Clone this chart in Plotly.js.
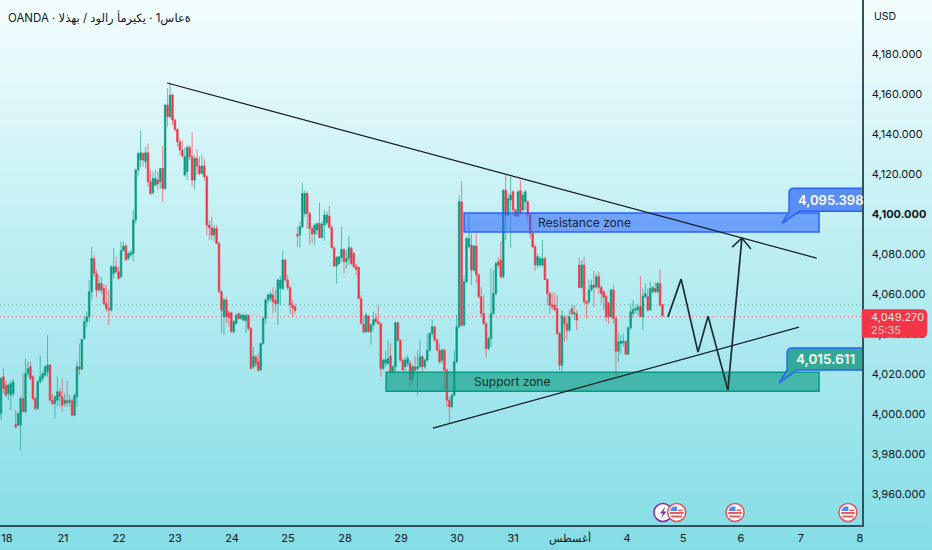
<!DOCTYPE html>
<html><head><meta charset="utf-8">
<script src="https://cdn.plot.ly/plotly-3.0.1.min.js"></script>
<style>html,body{margin:0;padding:0;width:932px;height:550px;overflow:hidden;background:linear-gradient(180deg,#f4fdfe 0%,#b9edf1 48%,#84dde6 100%)}#c{width:932px;height:550px}</style>
</head><body><div id="c"></div>
<script>
const open_=[4000.3,4018.7,4014.5,4010.3,4009.5,4010.3,3994.8,3994.5,3994.5,4007.8,4001.2,4020.3,4023.7,4018.7,4007.8,4002.8,4016.2,4017.8,4019.5,4021.2,4024.5,4007,4005.3,4007,4011.2,4008.7,4005.3,4006.7,4006,4006.7,3999.5,4008.7,4023.7,4022.5,4037.8,4046.2,4048.7,4061.2,4077.8,4070.3,4062,4065.3,4062.8,4055.3,4052.8,4052,4070.3,4073.7,4071.2,4068.7,4081.7,4084,4077.8,4079.5,4080.3,4097,4122,4127,4130.3,4126.2,4130.7,4116.2,4110.7,4114.5,4117,4116.2,4122.8,4112.8,4154.5,4148.7,4159.5,4147,4142.3,4136.2,4132,4119.5,4121.2,4133.3,4128.7,4117,4127.8,4124,4120.3,4124,4118.7,4094.5,4093.2,4089.5,4092.8,4085.3,4061.2,4048.7,4057,4050.7,4050.7,4041.2,
4045.3,4050.3,4047.8,4047,4046.7,4049.5,4042.8,4023.7,4028.7,4026.2,4022,4035.3,4047.8,4057,4057.8,4059.5,4057,4055.3,4062.8,4062.8,4077,4067,4063.3,4054.5,4053.7,4089.8,4089.5,4093.7,4100.3,4110.3,4100.3,4092.8,4090,4092,4095.3,4088.3,4094.5,4095.7,4099,4093.3,4083.2,4074,4075.3,4078.3,4082.3,4076.2,4077.8,4082.8,4080.3,4073.7,4073.3,4057.8,4045,4041.2,4049,4041.2,4044.5,4047.8,4046.2,4045.3,4022.8,4025.3,4025.3,4029,4021.2,4023.7,4045.7,4037,4027,4023.7,4025.3,4025.3,4017.8,4023.7,4022.8,4023.7,4028.7,4023.7,4027,4032,4040.3,4043.7,4037,4032,4027,4032,4022,4007,4003.7,4009.5,4026.2,4043.7,4106.2,4044.5,
4066.2,4083.7,4084.5,4072,4084,4069.5,4058.7,4050.3,4045.3,4032.8,4037.8,4050.3,4060.3,4076.2,4077,4068.7,4112,4099.5,4107,4111.2,4102,4099,4111.7,4102,4106.2,4106.2,4099.5,4090.3,4083.7,4074.5,4074.5,4074.5,4077.8,4067.3,4060.3,4054.5,4054.5,4052.8,4040.3,4024.5,4048.3,4045.3,4042,4052.8,4050,4050.3,4074.5,4063.3,4074.5,4056.2,4056.2,4062,4064.5,4063.7,4068.7,4063.3,4061.2,4058.7,4055.3,4048.7,4062,4047.8,4031.5,4035.3,4035.7,4036.2,4030,4043.2,4050.3,4052,4052,4053.7,4048.7,4058.7,4058.7,4052,4061.2,4062.8,4061.2,4065.3,4054.8];
const high_=[4018.7,4022.8,4017,4015.3,4017,4017.8,4002,4001,4008.7,4020.3,4027.8,4026.2,4026.2,4019.5,4008.7,4017,4029.5,4021.2,4024.5,4039.5,4025,4010.3,4009.5,4018.7,4012.8,4017.8,4010.3,4016.7,4009.5,4007.8,4010.3,4026.2,4035.3,4037.8,4048.7,4051.2,4067,4083.7,4079.5,4072,4069.5,4068.7,4065,4064.5,4062,4074.5,4082.8,4078.7,4073.7,4086.2,4086.2,4085.3,4081.2,4082,4102,4122.8,4131.2,4141.7,4130.7,4133.7,4135.3,4122,4121.2,4122,4121.2,4122.8,4134,4155.3,4162.8,4165.7,4160.3,4147.8,4142.8,4137.8,4137,4133.3,4134.5,4134.5,4140.7,4129.5,4132.3,4128.7,4129.8,4127.8,4119.5,4097,4098.7,4094.5,4094.5,4086.2,4062,4057.8,4058.7,4052,4051.2,4047,
4050.3,4050.7,4050.3,4050.3,4050.3,4049.5,4043.7,4033.7,4029.5,4030.3,4035.3,4048.7,4057.8,4060.3,4061.2,4063.3,4062.3,4067.8,4069,4081.7,4077.8,4069.5,4063.7,4057,4055.3,4093.7,4096.2,4115.7,4112,4111.2,4101.2,4093.7,4095.3,4095.7,4105.7,4096.2,4102,4101.2,4104,4094.5,4083.7,4079,4079,4093.7,4082.8,4082,4089,4083.7,4081.2,4075.3,4074,4059.5,4048.7,4050.7,4049.5,4045.3,4051.2,4050.3,4054.5,4045.7,4027.8,4032,4037,4035.3,4024.5,4046.2,4046.2,4037.3,4027.8,4028.7,4029.5,4027,4024.5,4029,4032,4037.3,4029.5,4027.8,4040.3,4041.2,4047.3,4044,4037.8,4035.3,4032.8,4032.8,4022.8,4008.7,4010.3,4032,4049.5,4109.5,4116.2,4069.5,
4088.7,4099.5,4090.3,4084.5,4090.3,4070.3,4063.7,4059.5,4046.2,4038.7,4072.8,4072,4076.2,4078.7,4086.2,4112.3,4119.5,4110.3,4118.7,4112,4102.8,4112,4117,4111.2,4112,4107,4100.3,4091.2,4084.5,4080.3,4079,4087,4078.7,4067.8,4061.2,4060.7,4060.7,4059.5,4041.2,4052,4049.5,4049.5,4052,4054.5,4054.5,4052,4078.3,4077,4078.7,4057,4067,4067.3,4071.7,4070,4071.2,4064.5,4062,4060.3,4056.2,4062.8,4064.5,4048.7,4040.7,4039.5,4040.3,4037,4043.7,4055.3,4057,4054.5,4055.3,4069,4062.8,4065.3,4062.8,4066.2,4064,4066.2,4066.2,4072.3,4055];
const low_=[3997,4010.3,4008.7,4007,4002,4008.7,3992.8,3993.7,3982,4001.2,4000.3,4018.7,4017,4007,4002,4002,4015.3,4016.2,4018.7,4018.7,4006.2,4004.5,3997.8,4003.7,4003.7,4001.2,4003.7,4003.7,4003.7,3999,3999,4003.7,4019.5,4022,4037,4043.7,4046.2,4057,4068.7,4058.7,4061.2,4060.3,4054.5,4051.2,4044.5,4051.2,4067.8,4070.3,4067,4067.8,4081.2,4076.5,4077,4078.7,4076.5,4095.3,4118.7,4123.7,4123.7,4122.8,4113.7,4109.5,4109.8,4113.7,4112,4112.8,4106.2,4112,4143.7,4147.8,4144.5,4141.2,4133.7,4129.5,4128.3,4118.7,4117,4127,4113.7,4112.3,4119.5,4119.5,4119.5,4117,4089.5,4087,4087,4086.2,4085,4060.3,4040.3,4039.5,4045.3,4043.7,4040.7,4040.3,
4044.5,4047,4047,4046.2,4040.3,4042,4022.3,4022.8,4023.7,4021.2,4021.7,4034.5,4045.3,4055.3,4056.2,4050.3,4051.2,4044.5,4054.5,4062,4066.2,4062,4050.3,4048.7,4050.3,4083.7,4083.3,4092.8,4098.7,4092.8,4084.5,4085.3,4084.5,4089.5,4087.8,4087.8,4086.7,4094.5,4092.8,4082.8,4073.7,4065.3,4074.5,4076.2,4070.3,4072.8,4074.5,4074.5,4072.8,4069.5,4057.3,4045,4040.3,4040.3,4040.7,4034.5,4042,4045.3,4044.5,4018.7,4022,4023.7,4024.5,4020.3,4020.3,4021.2,4036.2,4026.2,4021.7,4021.2,4023.7,4013.7,4014.5,4021.2,4009.5,4022.8,4021.2,4022.8,4026.2,4031.2,4038.7,4036.2,4031.2,4025.3,4025.3,4012,4003.7,3995.3,4002.8,4008.7,4025.3,4042.8,4043.7,4043.7,
4065.3,4082.8,4064.5,4071.2,4065.3,4057.8,4048.7,4044.5,4028.3,4032,4033.7,4049.5,4059.5,4072.8,4067.8,4067.8,4087,4098.7,4083.3,4099.5,4098.7,4098.7,4099.5,4101.2,4102,4095.3,4087.8,4082.8,4071.7,4072.8,4073.7,4073.7,4067,4054.5,4050.3,4052,4051.2,4039.5,4022,4021.2,4036.2,4037,4041.2,4049.5,4047,4042,4062.8,4062.8,4055,4047.8,4055.3,4061.2,4053.7,4062.8,4060.3,4055.3,4052,4046.2,4045.3,4047.8,4045.3,4018.7,4026.2,4030,4033.7,4029.5,4029.5,4042,4048.7,4050.3,4049.5,4048.7,4042,4057.8,4051.2,4051.7,4060.3,4060.3,4060.3,4053.7,4048.3];
const close_=[4017.8,4012.8,4009.5,4014.5,4015.3,4016.2,3993.7,4000.3,4007.8,4001.2,4020.3,4022.8,4017.8,4007.8,4002.8,4016.2,4018.7,4020.3,4023.7,4024.5,4007,4005.3,4008.7,4011.2,4008.7,4004.5,4007,4005.7,4006.7,3999.5,4009.5,4023.7,4022.5,4037.3,4046.2,4048.7,4061.2,4077.8,4070.3,4062,4065.3,4062,4055.3,4052.8,4052,4073.7,4073.7,4071.2,4067.8,4081.7,4084,4077,4080.3,4080.7,4097,4122,4130.3,4130.7,4127,4130.7,4116.2,4110.3,4117.8,4117.8,4115,4122.8,4112.8,4154.5,4148.7,4159.5,4147,4142.3,4136.2,4132,4129,4128.7,4133.3,4128.7,4117,4127.8,4124,4120.3,4124,4118.7,4094.5,4093.2,4089.5,4092.8,4085.3,4061.2,4052,4057.3,4048.7,4048.3,4041.2,4046.2,
4049.5,4047.8,4049.5,4049.5,4049.2,4042.8,4022.8,4028.7,4025.3,4022,4035.3,4047.8,4057,4059.5,4060,4056.2,4055.3,4067,4067,4077,4067,4063.3,4054.5,4053.3,4051.7,4089,4093.7,4110.3,4110.3,4100.3,4092.8,4090,4094.5,4095.3,4088.3,4095,4099.5,4099.5,4093.3,4083.2,4074,4078.3,4078.7,4082.3,4076.2,4077.8,4083.3,4075.3,4073.7,4072.3,4057.8,4045.3,4041.2,4049.5,4041.2,4044.5,4047.3,4046.2,4045.3,4022.8,4027,4027.3,4027.8,4021.2,4023.7,4045.7,4037,4027,4022,4027,4027.8,4017,4023.7,4022,4023.7,4028.7,4023.7,4027,4032,4040.3,4043.7,4037,4032,4026.2,4032,4022,4007,4003.7,4009.5,4026.2,4043.7,4106.2,4044.5,4066.2,
4087.8,4087.8,4072,4084,4069.5,4058.7,4050.3,4045.3,4032.8,4037.8,4050.3,4060.3,4075.3,4074.5,4068.7,4112,4099.5,4107.8,4109.5,4102,4099,4111.2,4100.3,4109.5,4111.2,4099.5,4090.3,4083.7,4074.5,4078.7,4077.8,4077.8,4067.3,4060.3,4054.5,4053.7,4052.3,4040.3,4024.5,4049.2,4045.3,4042,4048.7,4050.3,4050.7,4047,4063.3,4074.5,4056.2,4055.3,4062,4064.5,4063.3,4068.7,4063.3,4060.3,4058.3,4048.7,4048.7,4062,4047.8,4031.5,4036.2,4036.5,4036.5,4030,4043.2,4051.2,4052.3,4052.7,4053.7,4048.7,4059,4060.3,4052,4062.8,4063.3,4061.2,4065.3,4054.5,4049.27];

const yTicks=[4180,4160,4140,4120,4100,4080,4060,4040,4020,4000,3980,3960];
const dayBars=[2.4,25.3,48.2,71,94.3,117.1,140.4,163.3,186.1,209,232.2,255.5,278.4,302,326.5,350.6];
const dayLabels=['18','21','22','23','24','25','28','29','30','31','أغسطس','4','5','6','7','8'];
const eventBars=[275.8,299.6,345.7];
const trendBars=[67.8,332.9], trendPrices=[4165.5,4078];
const riseBars=[176.3,325.7], risePrices=[3993,4043.5];
const pathBars=[272.2,277.6,284.5,288.6,296.7,302.4], pathPrices=[4048.5,4067.5,4031,4049,4012,4088];
const headBars=[298.4,302.4,306.1], headPrices=[4083.5,4088,4082.5];
const resistZone={x:[189,333.9],y:[4091,4100.5]}, supportZone={x:[157.2,333.9],y:[4011.5,4021]};

const bars=close_.map((_,i)=>i);
const INK='#131722', UP='#089981', DN='#f23645', BLUE='#2962ff', F='Inter, "Noto Sans", sans-serif';
const fmt=v=>v.toLocaleString('en-US',{minimumFractionDigits:3,maximumFractionDigits:3});

const shapes=[
 {type:'line',xref:'paper',x0:0,x1:1,yref:'y',y0:4054.6,y1:4054.6,layer:'below',line:{color:'rgba(40,120,110,.55)',width:1,dash:'1px,3px'}},
 {type:'line',xref:'paper',x0:0,x1:1,yref:'y',y0:4048.8,y1:4048.8,layer:'below',line:{color:'rgba(230,60,80,.65)',width:1,dash:'1px,3px'}},
 {type:'rect',x0:resistZone.x[0],x1:resistZone.x[1],y0:resistZone.y[0],y1:resistZone.y[1],fillcolor:'rgba(41,98,255,.55)',line:{color:BLUE,width:1.5}},
 {type:'rect',x0:supportZone.x[0],x1:supportZone.x[1],y0:supportZone.y[0],y1:supportZone.y[1],fillcolor:'rgba(8,153,129,.62)',line:{color:UP,width:1.5}},
 {type:'line',x0:trendBars[0],x1:trendBars[1],y0:trendPrices[0],y1:trendPrices[1],line:{color:INK,width:1.2}},
 {type:'line',x0:riseBars[0],x1:riseBars[1],y0:risePrices[0],y1:risePrices[1],line:{color:INK,width:1.2}},
];
for(let i=1;i<pathBars.length;i++) shapes.push({type:'line',x0:pathBars[i-1],x1:pathBars[i],y0:pathPrices[i-1],y1:pathPrices[i],line:{color:'#1d2b33',width:1.7}});
for(let i of [0,2]) shapes.push({type:'line',x0:headBars[i],x1:headBars[1],y0:headPrices[i],y1:headPrices[1],line:{color:'#1d2b33',width:1.5}});

function pin(xa,ya,path,fill,line,w,refs){return Object.assign({type:'path',xsizemode:'pixel',ysizemode:'pixel',xanchor:xa,yanchor:ya,path:path,fillcolor:fill,line:{color:line,width:w}},refs||{});}
function disc(xa,cy,r,fill,line,w){return {type:'circle',xref:'x',yref:'paper',xsizemode:'pixel',ysizemode:'pixel',xanchor:xa,yanchor:0,x0:-r,x1:r,y0:cy-r,y1:cy+r,fillcolor:fill,line:{color:line,width:w}};}
// callouts
shapes.push(pin(318.8,4095.398,'M 0 0 L 17 12 L 81 12 L 81 35 L 12 35 Q 7 35 7 30 L 7 12 Z','#5b8df6',BLUE,1.5));
shapes.push(pin(317.6,4015.611,'M 0 0 L 18 13 L 84 13 L 84 35 L 13 35 Q 8 35 8 30 L 8 13 Z','#34a896',BLUE,1.5));
// last price tag
shapes.push(pin(1,4049.27,'M 0 6 L 60 6 Q 65 6 65 1 L 65 -17 Q 65 -22 60 -22 L 0 -22 Z',DN,DN,0.5,{xref:'paper',yref:'y'}));
// event badges
function badge(b){
 const r={xref:'x',yref:'paper'}, at=(p,f)=>pin(b,0,p,f,f,0,r);
 shapes.push(disc(b,12.5,9,'#ffffff','#e5535c',1.5));
 shapes.push(at('M -6 9.5 L 6 9.5 L 5 7.5 L -5 7.5 Z','#ef5a5f'));
 shapes.push(at('M -6.8 13 L 6.8 13 L 6.8 11 L -6.8 11 Z','#ef5a5f'));
 shapes.push(at('M -6.5 14 L 0.5 14 L 0.5 18.5 L -3 18.5 Q -6 17.5 -6.5 14 Z','#4b8df2'));
 shapes.push(at('M 1.5 15.5 L 6 15.5 L 6 14 L 1.5 14 Z','#ef5a5f'));
}
shapes.push(disc(270.2,12.5,9,'#ffffff','#8e24aa',1.5));
shapes.push(pin(270.2,0,'M 2.5 18.5 L -3 11.5 L 0 11.5 L -2 6.5 L 3.5 13.5 L 0.5 13.5 Z','#8e24aa','#8e24aa',0,{xref:'x',yref:'paper'}));
eventBars.forEach(badge);

const note=(o)=>Object.assign({showarrow:false,font:{family:F,size:12,color:INK}},o);
const annotations=[
 note({xref:'paper',yref:'paper',x:0,y:1,xanchor:'left',yanchor:'top',xshift:6,yshift:-8,text:'\u202DOANDA · الذهب / دولار أمريكي · 1ساعة\u202C',font:{family:'Inter, "DejaVu Sans", sans-serif',size:11.5,color:INK}}),
 note({xref:'paper',yref:'paper',x:1,y:1,xanchor:'left',yanchor:'top',xshift:10,yshift:-8,text:'USD',font:{family:F,size:10.5,color:INK}}),
 note({x:238,y:(resistZone.y[0]+resistZone.y[1])/2,text:'Resistance zone',font:{family:F,size:12,color:'#10243c'}}),
 note({x:208.5,y:(supportZone.y[0]+supportZone.y[1])/2,text:'Support zone',font:{family:F,size:12,color:'#10302c'}}),
 note({x:318.8,y:4095.398,xanchor:'left',xshift:14,yshift:23,text:fmt(4095.398),font:{family:F,size:13,color:'#fff',weight:600}}),
 note({x:317.6,y:4015.611,xanchor:'left',xshift:15,yshift:24,text:fmt(4015.611),font:{family:F,size:13.5,color:'#fff',weight:600}}),
 note({xref:'paper',yref:'y',x:1,y:4049.27,xanchor:'left',xshift:7,yshift:-1,text:fmt(4049.27),font:{family:F,size:11,color:'#ffe4e6'}}),
 note({xref:'paper',yref:'y',x:1,y:4049.27,xanchor:'left',xshift:7,yshift:-14,text:'25:35',font:{family:F,size:11,color:'#ffc4c9'}}),
];

Plotly.newPlot('c',[{
  type:'candlestick',x:bars,open:open_,high:high_,low:low_,close:close_,
  increasing:{line:{color:'rgba(8,153,129,.6)',width:1},fillcolor:UP},
  decreasing:{line:{color:'rgba(242,54,69,.6)',width:1},fillcolor:DN},
  whiskerwidth:0,hoverinfo:'skip',showlegend:false
}],{
  width:932,height:550,margin:{l:0,r:70,t:0,b:25,pad:0},
  paper_bgcolor:'rgba(0,0,0,0)',plot_bgcolor:'rgba(0,0,0,0)',showlegend:false,boxgap:0.05,hovermode:false,
  font:{family:F,size:12,color:INK},
  xaxis:{range:[-0.408,351.43],rangeslider:{visible:false},showgrid:false,zeroline:false,tickmode:'array',tickvals:dayBars,ticktext:dayLabels,tickangle:0,
    showline:true,linecolor:'#35525c',linewidth:1.5,ticks:'outside',ticklen:2,tickcolor:'rgba(0,0,0,0)',tickfont:{family:F,size:11,color:INK}},
  yaxis:{side:'right',range:[3944.6,4207],showgrid:false,zeroline:false,tickmode:'array',tickvals:yTicks,
    ticktext:yTicks.map(v=>v===4100?'<b>'+fmt(v)+'</b>':fmt(v)),showline:true,linecolor:'#35525c',linewidth:1.5,ticks:'outside',ticklen:6,tickcolor:'rgba(0,0,0,0)',tickfont:{family:F,size:11,color:INK}},
  shapes,annotations
},{staticPlot:true,displayModeBar:false});
</script></body></html>
